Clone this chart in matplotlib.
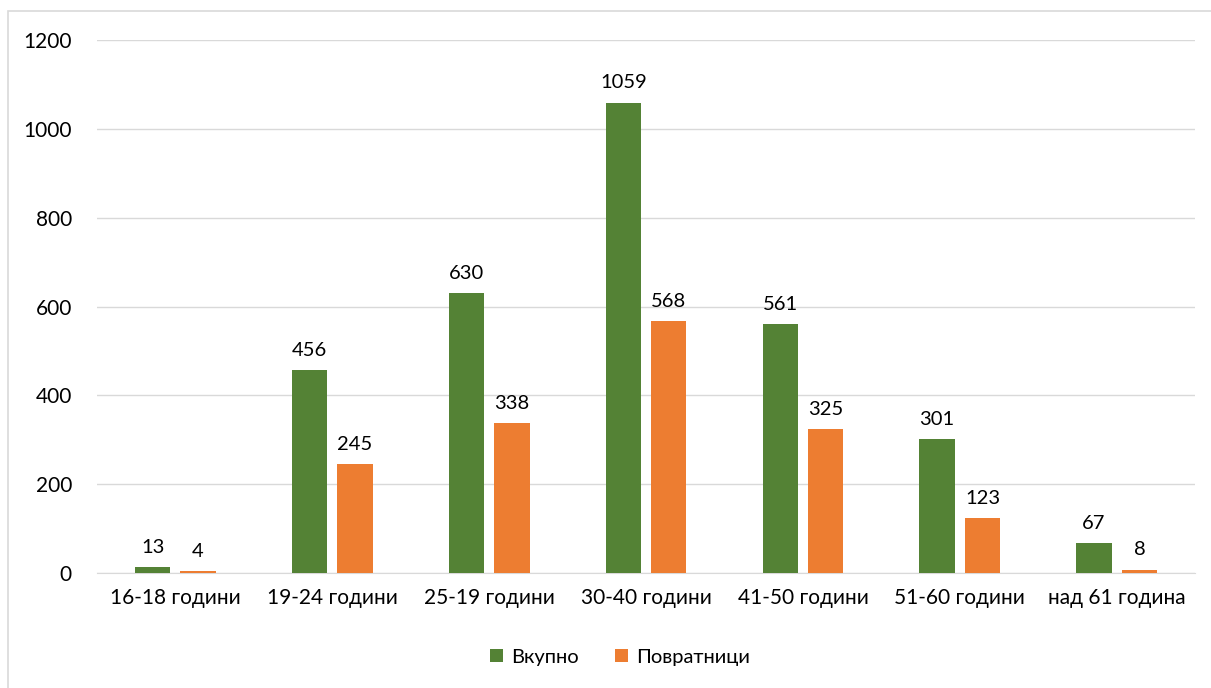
import matplotlib
matplotlib.use("Agg")
import matplotlib.pyplot as plt
from matplotlib.patches import Rectangle
import numpy as np

categories = ["16-18 години", "19-24 години", "25-19 години", "30-40 години",
              "41-50 години", "51-60 години", "над 61 година"]
vkupno = [13, 456, 630, 1059, 561, 301, 67]
povratnici = [4, 245, 338, 568, 325, 123, 8]
series_names = ["Вкупно", "Повратници"]
yticks = [0, 200, 400, 600, 800, 1000, 1200]

plt.rcParams['font.family'] = ['Lato', 'DejaVu Sans']

fig = plt.figure(figsize=(12.11, 6.88), dpi=100)
ax = fig.add_axes([0.080, 0.167, 0.907, 0.775])

x = np.arange(len(categories))
w = 0.225
off = 0.145
green = "#548235"
orange = "#ED7D31"
b1 = ax.bar(x - off, vkupno, w, color=green, label=series_names[0], zorder=3)
b2 = ax.bar(x + off, povratnici, w, color=orange, label=series_names[1], zorder=3)

for bars, vals in ((b1, vkupno), (b2, povratnici)):
    for r, v in zip(bars, vals):
        ax.annotate(str(v), (r.get_x() + r.get_width() / 2, v),
                    xytext=(0, 8), textcoords="offset points",
                    ha="center", va="bottom", fontsize=14.5, color="#000000")

ax.set_xlim(-0.5, len(categories) - 0.5)
ax.set_ylim(0, 1200)
ax.set_yticks(yticks)
ax.set_yticklabels([str(t) for t in yticks])
ax.set_xticks(x)
ax.set_xticklabels(categories)
ax.tick_params(axis='both', length=0, labelsize=15, colors="#000000")
ax.tick_params(axis='x', pad=11)
ax.tick_params(axis='y', pad=18)
ax.grid(axis='y', color="#D9D9D9", linewidth=1, zorder=0)
for s in ["top", "right", "left"]:
    ax.spines[s].set_visible(False)
ax.spines["bottom"].set_color("#D9D9D9")
ax.spines["bottom"].set_zorder(1)

leg = fig.legend(handles=[b1, b2], labels=series_names, loc="center",
                 bbox_to_anchor=(0.512, 1 - 657 / 688), ncol=2, frameon=False,
                 fontsize=14.5, handlelength=0.65, handleheight=0.65,
                 columnspacing=1.8, handletextpad=0.4)

fig.patches.append(Rectangle((8 / 1211, -0.01), 1.0, 1 - 11 / 688 + 0.01,
                             transform=fig.transFigure, fill=False,
                             edgecolor="#D9D9D9", linewidth=1.2))

fig.savefig("out.png", dpi=100)
